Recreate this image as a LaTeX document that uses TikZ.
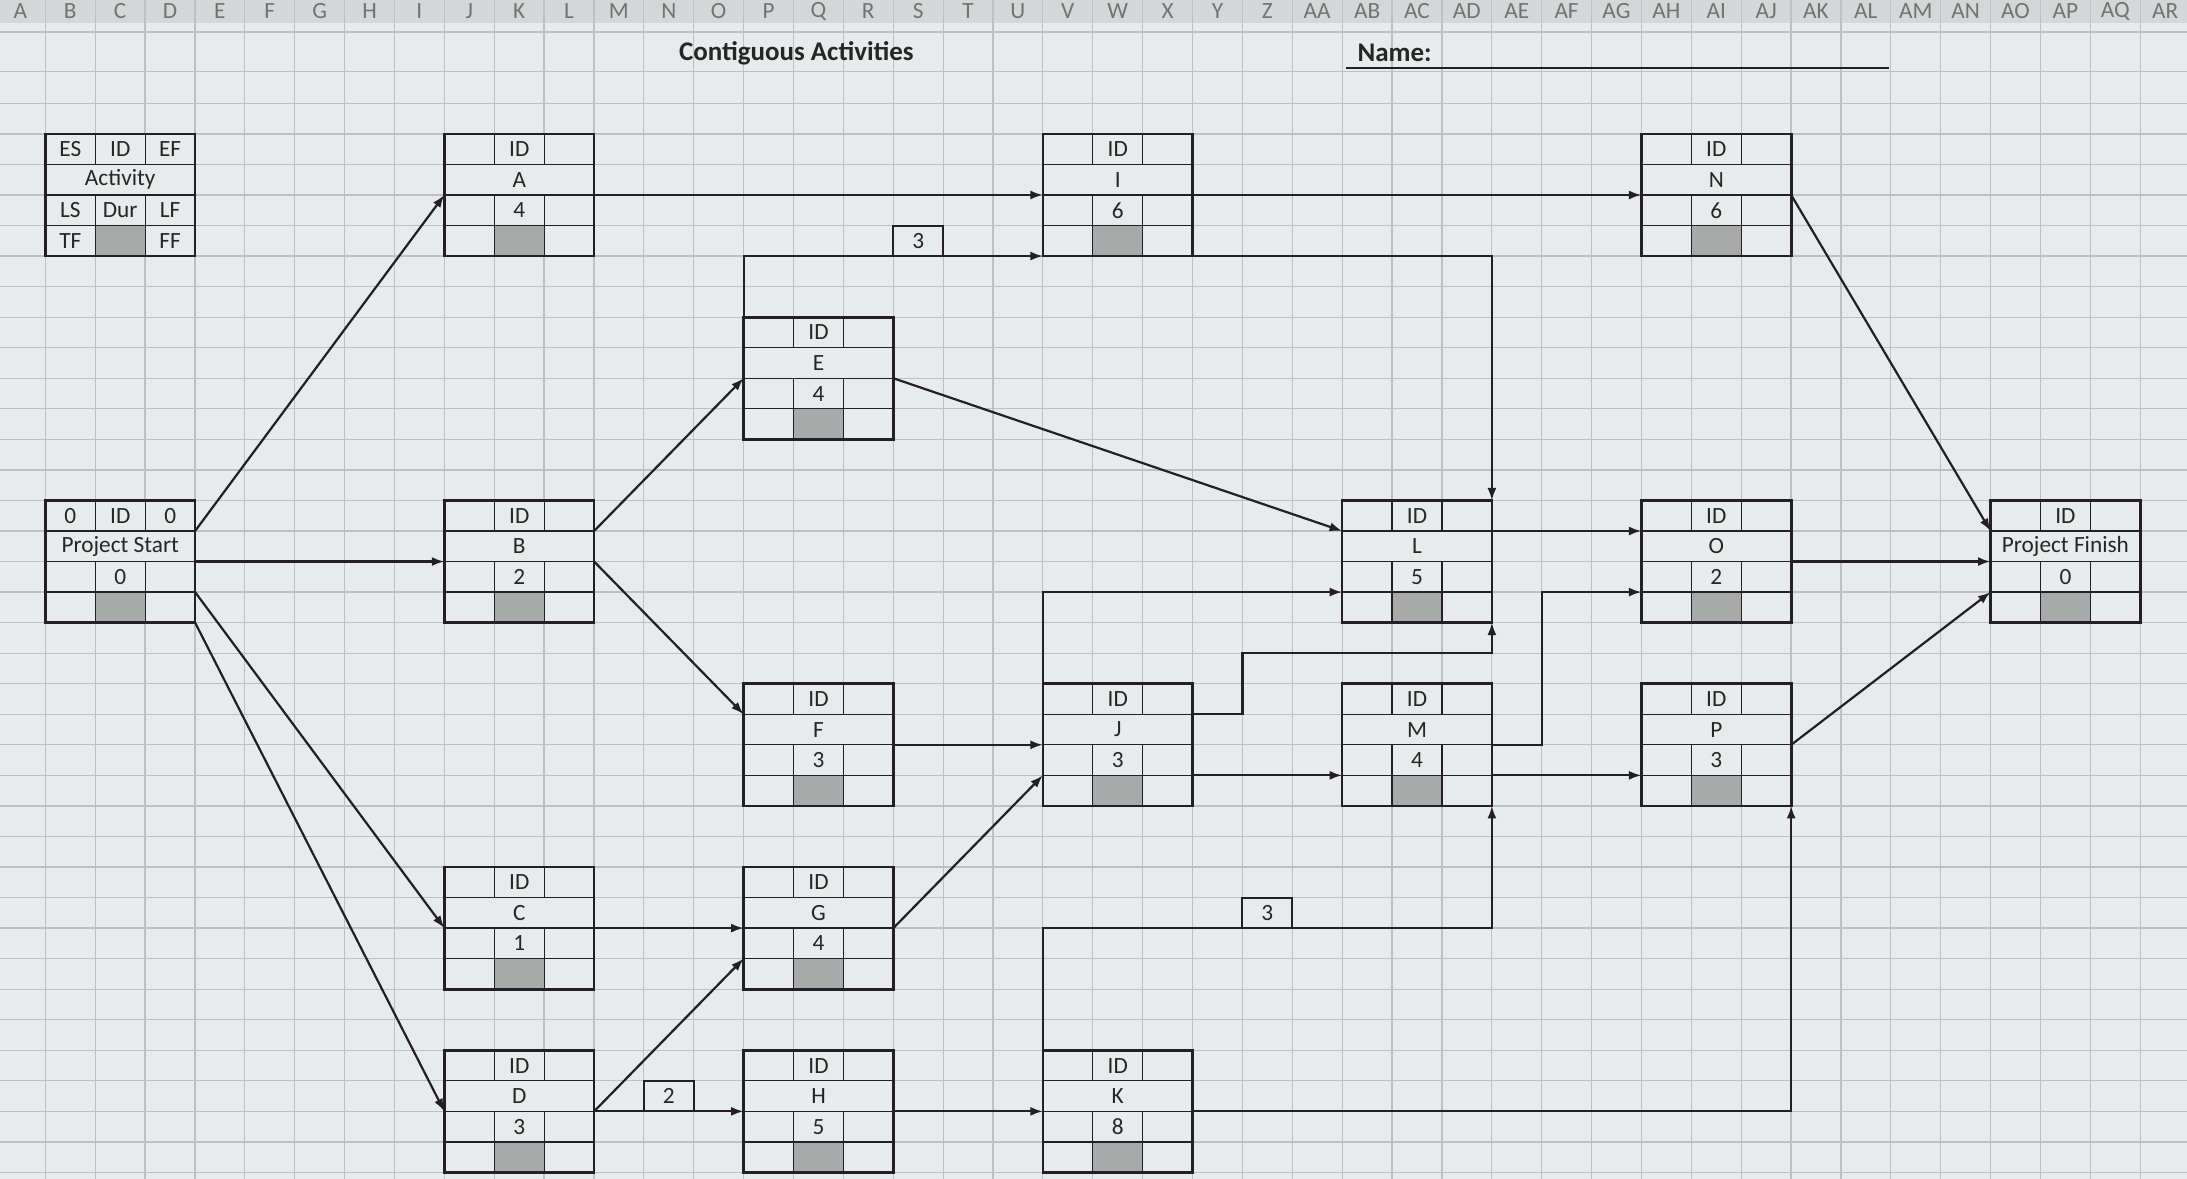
\documentclass[tikz,border=0pt]{standalone}
\usepackage{fontspec}
\setmainfont{Carlito}
\usepackage{tikz}
\usetikzlibrary{arrows.meta}
\definecolor{paper}{RGB}{231,235,235}
\definecolor{gridgray}{RGB}{188,193,194}
\definecolor{headgray}{RGB}{212,215,215}
\definecolor{durgray}{RGB}{168,170,170}
\definecolor{boxline}{RGB}{35,30,40}
\definecolor{ink}{RGB}{38,38,38}
\newcommand{\boxfont}{\fontsize{9.5}{11}\selectfont}
\tikzset{
  actbox/.style={fill=paper, minimum width=2.148cm, minimum height=1.752cm, inner sep=0pt, outer sep=0pt, anchor=north west},
  cell/.style={draw=boxline, line width=0.5pt},
  edge/.style={draw=boxline, line width=1.1pt},
  celltxt/.style={font=\boxfont, text=ink, inner sep=0pt},
  arr/.style={draw=boxline, line width=0.9pt, -{Latex[length=1.8mm,width=1.3mm]}},
  link/.style={draw=boxline, line width=0.9pt},
  lagbox/.style={draw=boxline, line width=0.8pt, fill=paper, minimum width=0.716cm, minimum height=0.438cm, inner sep=0pt, outer sep=0pt, anchor=north west, font=\boxfont, text=ink},
  gridline/.style={draw=gridgray, line width=0.5pt},
  colhead/.style={font=\fontsize{9.5}{10}\selectfont, text=black!55, inner sep=0pt},
  titletxt/.style={font=\fontsize{11}{13}\selectfont\bfseries, text=ink, inner sep=0pt}
}
% activity box: name, column, row, activity, duration
\newcommand{\actbox}[5]{%
  \node[actbox] (#1) at ({32.5+35.76*#2},{96+21.9*#3}) {};
  \fill[durgray] ([shift={(35.8,65.7)}]#1.north west) rectangle ([shift={(71.6,0)}]#1.south west);
  \foreach \k in {1,2,3}
    \draw[cell] ([shift={(0,21.9*\k)}]#1.north west) -- ([shift={(0,21.9*\k)}]#1.north east);
  \foreach \k in {35.8,71.6} {
    \draw[cell] ([shift={(\k,0)}]#1.north west) -- ++(0,21.9);
    \draw[cell] ([shift={(\k,43.8)}]#1.north west) -- ++(0,43.8);
  }
  \draw[edge] (#1.north west) rectangle (#1.south east);
  \foreach \k in {1,2,3} {
    \coordinate (#1-w\k) at ([shift={(0,21.9*\k)}]#1.north west);
    \coordinate (#1-e\k) at ([shift={(0,21.9*\k)}]#1.north east);
  }
  \node[celltxt] at ([shift={(53.7,10.95)}]#1.north west) {ID};
  \node[celltxt] at ([shift={(53.7,32.85)}]#1.north west) {#4};
  \node[celltxt] at ([shift={(53.7,54.75)}]#1.north west) {#5};
}
\begin{document}
\begin{tikzpicture}[x=0.02cm,y=-0.02cm]
\useasboundingbox (0,0) rectangle (1568,845);
%sheet
\fill[paper] (0,0) rectangle (1568,845);
\foreach \c in {0,...,43}
  \draw[gridline] ({32.5+35.76*\c},16.5) -- ({32.5+35.76*\c},845);
\foreach \y in {23,51}
  \draw[gridline] (0,\y) -- (1568,\y);
\foreach \r in {-1,...,34}
  \draw[gridline] (0,{96+21.9*\r}) -- (1568,{96+21.9*\r});
\fill[headgray] (0,0) rectangle (1568,16.5);
\foreach \c in {0,...,43}
  \draw[gridline] ({32.5+35.76*\c},0) -- ({32.5+35.76*\c},16.5);
\foreach \l [count=\i] in {A,B,C,D,E,F,G,H,I,J,K,L,M,N,O,P,Q,R,S,T,U,V,W,X,Y,Z,AA,AB,AC,AD,AE,AF,AG,AH,AI,AJ,AK,AL,AM,AN,AO,AP,AQ,AR}
  \node[colhead] at ({32.5+35.76*(\i-1.5)},8) {\l};
%title
\node[titletxt] (title) at (571,38) {Contiguous Activities};
\node[titletxt,anchor=west] (name) at (973,38) {Name:};
\draw[link] (965,48.5) -- (1354,48.5);
%boxes
\actbox{leg}{0}{0}{Activity}{Dur}
\node[celltxt] at ([shift={(17.9,10.95)}]leg.north west) {ES};
\node[celltxt] at ([shift={(89.5,10.95)}]leg.north west) {EF};
\node[celltxt] at ([shift={(17.9,54.75)}]leg.north west) {LS};
\node[celltxt] at ([shift={(89.5,54.75)}]leg.north west) {LF};
\node[celltxt] at ([shift={(17.9,76.65)}]leg.north west) {TF};
\node[celltxt] at ([shift={(89.5,76.65)}]leg.north west) {FF};
\actbox{S}{0}{12}{Project Start}{0}
\node[celltxt] at ([shift={(17.9,10.95)}]S.north west) {0};
\node[celltxt] at ([shift={(89.5,10.95)}]S.north west) {0};
\actbox{A}{8}{0}{A}{4}
\actbox{B}{8}{12}{B}{2}
\actbox{C}{8}{24}{C}{1}
\actbox{D}{8}{30}{D}{3}
\actbox{E}{14}{6}{E}{4}
\actbox{F}{14}{18}{F}{3}
\actbox{G}{14}{24}{G}{4}
\actbox{H}{14}{30}{H}{5}
\actbox{I}{20}{0}{I}{6}
\actbox{J}{20}{18}{J}{3}
\actbox{K}{20}{30}{K}{8}
\actbox{L}{26}{12}{L}{5}
\actbox{M}{26}{18}{M}{4}
\actbox{N}{32}{0}{N}{6}
\actbox{O}{32}{12}{O}{2}
\actbox{P}{32}{18}{P}{3}
\actbox{fin}{39}{12}{Project Finish}{0}
%lags
\node[lagbox] (lagE) at ({32.5+35.76*17},{96+21.9*3}) {3};
\node[lagbox] (lagD) at ({32.5+35.76*12},{96+21.9*31}) {2};
\node[lagbox] (lagK) at ({32.5+35.76*24},{96+21.9*25}) {3};
%connectors
\draw[arr] (S-e1) -- (A-w2);
\draw[arr] (S-e2) -- (B-w2);
\draw[arr] (S-e3) -- (C-w2);
\draw[arr] (S.south east) -- (D-w2);
\draw[arr] (A-e2) -- (I-w2);
\draw[arr] (B-e1) -- (E-w2);
\draw[arr] (B-e2) -- (F-w1);
\draw[arr] (C-e2) -- (G-w2);
\draw[arr] (D-e2) -- (G-w3);
\draw[arr] (D-e2) -- (H-w2);
\draw[arr] (E.north west) |- (I.south west);
\draw[arr] (I.south west) -| (L.north east);
\draw[arr] (E-e2) -- (L-w1);
\draw[arr] (F-e2) -- (J-w2);
\draw[arr] (G-e2) -- (J-w3);
\draw[arr] (H-e2) -- (K-w2);
\draw[arr] (I-e2) -- (N-w2);
\draw[arr] (J-e1) -- ++(35.8,0) |- ([shift={(0,21.9)}]L.south east) -- (L.south east);
\draw[arr] (J.north west) |- (L-w3);
\draw[arr] (J-e3) -- (M-w3);
\draw[arr] (K.north west) |- ([shift={(0,87.6)}]M.south east) -- (M.south east);
\draw[arr] (K-e2) -| (P.south east);
\draw[arr] (L-e1) -- (O-w1);
\draw[arr] (M-e2) -- ++(35.8,0) |- (O-w3);
\draw[arr] (M-e3) -- (P-w3);
\draw[arr] (N-e2) -- (fin-w1);
\draw[arr] (O-e2) -- (fin-w2);
\draw[arr] (P-e2) -- (fin-w3);
\end{tikzpicture}
\end{document}
